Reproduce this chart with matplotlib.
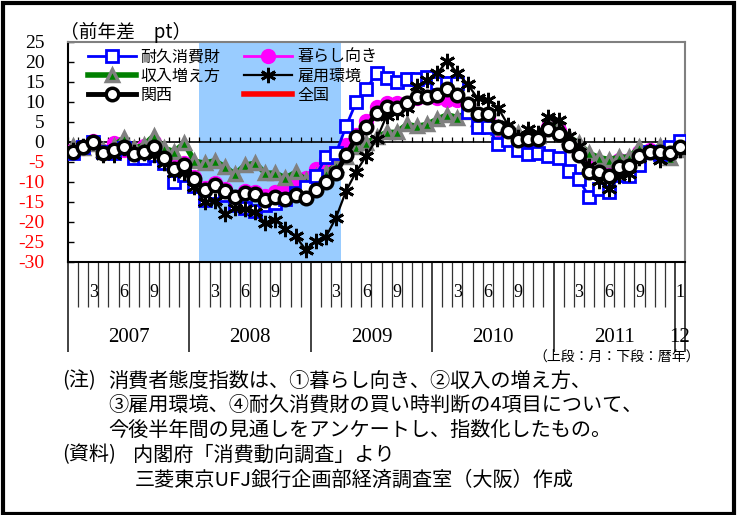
import numpy as np
import matplotlib
matplotlib.use("Agg")
import matplotlib.pyplot as plt
from matplotlib.patches import Rectangle
import matplotlib.transforms as mtransforms

plt.rcParams['font.family'] = ['Noto Sans CJK JP', 'DejaVu Sans']

# ---- data (Jan 2007 .. Jan 2012, monthly, year-on-year difference, pt) ----
durable = [-2.8, -1.3, 0.0, -2.4, -2.7, -1.6, -4.0, -4.0, -3.2, -5.3, -10.0, -8.2,
           -11.0, -14.5, -12.5, -13.2, -15.8, -16.6, -17.2, -15.7, -15.2, -14.3, -12.8, -11.2,
           -8.5, -3.7, -2.8, 4.0, 10.0, 13.2, 17.2, 15.9, 14.9, 15.7, 15.7, 16.2,
           14.7, 14.7, 14.7, 7.6, 3.8, 3.8, -0.5, 0.4, -1.9, -2.9, -2.7, -3.5,
           -4.1, -7.2, -9.2, -13.7, -11.8, -12.5, -8.3, -8.5, -5.7, -2.4, -3.0, -1.2,
           0.3]
living = [-2.0, -1.5, 0.3, -2.2, -0.3, -2.0, -2.2, -1.0, 0.0, -3.2, -5.8, -5.2,
          -8.8, -11.6, -10.3, -11.8, -13.7, -12.2, -12.4, -13.5, -12.4, -11.8, -10.3, -9.1,
          -6.8, -4.4, -3.6, -0.8, 1.8, 5.3, 8.7, 9.8, 9.7, 9.7, 10.9, 11.3,
          10.9, 10.6, 10.6, 9.3, 6.5, 6.0, 3.2, 2.5, 0.3, 0.5, 1.0, 3.8,
          3.0, -0.5, -2.8, -4.5, -5.3, -6.2, -4.5, -4.5, -2.5, -2.0, -2.2, -2.5,
          -1.5]
income = [-1.0, -1.5, -0.5, -2.0, -1.0, 0.9, -1.6, -0.8, 1.6, -1.6, -2.4, -0.3,
          -4.8, -5.3, -4.7, -6.2, -8.1, -5.8, -5.3, -7.8, -7.8, -9.0, -7.6, -9.4,
          -8.6, -7.8, -5.8, -3.7, -1.2, -0.3, 1.2, 2.4, 2.4, 4.4, 3.9, 4.4,
          5.7, 6.8, 6.1, 7.4, 5.7, 5.7, 3.4, 3.0, 2.2, 1.8, 1.5, 4.5,
          3.8, 1.3, -0.3, -2.8, -3.9, -4.4, -3.8, -3.8, -1.3, -2.4, -1.0, -3.9,
          -2.0]
employment = [-2.0, -1.0, 0.1, -3.2, -3.2, -1.6, -2.4, -2.8, -3.2, -5.3, -7.8, -7.8,
              -11.2, -15.0, -14.7, -18.1, -16.6, -16.8, -17.6, -20.2, -19.5, -21.8, -23.6, -26.9,
              -24.7, -23.7, -18.9, -12.2, -7.4, -3.4, 0.7, 6.5, 7.5, 8.5, 14.0, 15.5,
              17.2, 20.2, 17.2, 14.5, 10.9, 10.5, 8.6, 4.3, 1.3, 3.3, 2.2, 6.3,
              5.6, 1.5, -1.1, -6.0, -9.7, -11.7, -8.6, -7.9, -4.1, -2.3, -4.5, -3.0,
              -2.0]
kansai = [-2.4, -1.2, -0.1, -2.7, -2.0, -1.2, -3.0, -2.5, -1.2, -3.9, -6.8, -5.8,
          -9.2, -12.0, -10.8, -12.2, -13.7, -12.8, -13.0, -14.5, -13.7, -14.3, -13.2, -13.9,
          -12.1, -10.1, -7.8, -3.3, 1.2, 3.8, 7.2, 8.7, 8.4, 9.7, 11.2, 11.3,
          11.8, 13.3, 11.8, 9.6, 7.0, 6.9, 3.7, 2.7, 0.5, 0.7, 0.7, 3.2,
          2.1, -0.8, -3.2, -7.5, -7.5, -8.5, -6.2, -6.0, -3.4, -2.4, -2.6, -2.8,
          -1.3]
national = [-2.6, -1.4, -0.4, -2.6, -1.8, -1.6, -2.8, -2.4, -1.6, -4.0, -6.5, -6.0,
            -9.5, -12.3, -11.0, -12.5, -14.0, -13.0, -13.0, -14.2, -13.5, -13.5, -12.3, -12.0,
            -10.5, -8.5, -6.0, -2.5, 1.5, 4.5, 7.8, 9.0, 9.0, 10.2, 11.3, 11.6,
            12.0, 12.6, 11.6, 9.6, 6.8, 6.6, 3.6, 2.6, 0.6, 0.6, 0.9, 3.4,
            2.4, -0.8, -3.4, -6.5, -6.8, -7.8, -5.8, -5.5, -3.2, -2.3, -2.5, -2.7,
            -1.4]

series_names = ['耐久消費財', '暮らし向き', '収入増え方', '雇用環境', '関西', '全国']
year_labels = ['2007', '2008', '2009', '2010', '2011', '12']
month_labels = ['3', '6', '9']
last_month_label = '1'
recession = (13, 26)   # Feb 2008 .. Mar 2009 (indices)
yticks = [25, 20, 15, 10, 5, 0, -5, -10, -15, -20, -25, -30]

n = len(kansai)
x = np.arange(n)

W, H = 742, 515
fig = plt.figure(figsize=(W / 100, H / 100), dpi=100)
ax = fig.add_axes([68 / W, 1 - 262 / H, 617 / W, 220 / H])
ax.set_xlim(-0.5, n - 0.5)
ax.set_ylim(-30, 25)

ax.axvspan(recession[0] - 0.5, recession[1] + 0.5, color='#99CCFF', zorder=0, lw=0)
ax.axhline(0, color='black', lw=1.2, zorder=1)
ax.vlines(np.arange(n + 1) - 0.5, 0, 1.2, color='black', lw=0.9, zorder=1)

l_nat, = ax.plot(x, national, color='#FF0000', lw=4, zorder=2, label=series_names[5])
l_liv, = ax.plot(x, living, color='#FF00FF', lw=2, marker='o', ms=10,
                 mfc='#FF00FF', mec='#FF00FF', zorder=3, label=series_names[1])
l_inc, = ax.plot(x, income, color='#008000', lw=4, marker='^', ms=8,
                 mfc='#008000', mec='#808080', mew=2.5, zorder=4, label=series_names[2])
l_dur, = ax.plot(x, durable, color='#0000FF', lw=2, marker='s', ms=8,
                 mfc='white', mec='#0000FF', mew=2, zorder=5, label=series_names[0])
l_emp, = ax.plot(x, employment, color='black', lw=1.6, marker=(6, 2, 0), ms=11,
                 mec='black', mew=2, zorder=6, label=series_names[3])
l_kan, = ax.plot(x, kansai, color='black', lw=3.5, marker='o', ms=9,
                 mfc='white', mec='black', mew=2.5, zorder=7, label=series_names[4])

# spines
for s in ['top', 'right']:
    ax.spines[s].set_color('#808080')
    ax.spines[s].set_linewidth(1.5)
ax.spines['left'].set_linewidth(1.5)
ax.spines['bottom'].set_linewidth(1.5)

ax.set_xticks([])
ax.set_yticks(yticks)
ax.set_yticklabels([str(v) for v in yticks], family='Liberation Serif', fontsize=14)
for lab, v in zip(ax.get_yticklabels(), yticks):
    lab.set_color('red' if v < 0 else 'black')
ax.tick_params(axis='y', direction='in', length=4, width=1, pad=17)

# category axis below the plot
trans = mtransforms.blended_transform_factory(ax.transData, ax.transAxes)
bounds = np.arange(n + 1) - 0.5
year_bounds = [b for i, b in enumerate(bounds) if i % 12 == 0 or i == n]
month_bounds = [b for b in bounds if b not in year_bounds]
ax.vlines(month_bounds, -0.205, 0, transform=trans, color='#333333', lw=0.9, clip_on=False)
ax.vlines(year_bounds, -0.41, 0, transform=trans, color='#222222', lw=1.2, clip_on=False)

for yr in range(5):
    for k, m in enumerate(month_labels):
        idx = yr * 12 + (k + 1) * 3 - 1
        ax.text(idx, -0.14, m, transform=trans, ha='center', va='center',
                family='Liberation Serif', fontsize=13)
ax.text(n - 1, -0.14, last_month_label, transform=trans, ha='center', va='center',
        family='Liberation Serif', fontsize=13)
for yr, lab in enumerate(year_labels):
    xc = yr * 12 + 5.5 if yr < 5 else n - 1
    ax.text(xc, -0.345, lab, transform=trans, ha='center', va='center',
            family='Liberation Serif', fontsize=15)

# legend (row-major order in a 2-column layout)
handles = [l_dur, l_inc, l_kan, l_liv, l_emp, l_nat]
leg = ax.legend(handles=handles, loc='upper left', bbox_to_anchor=(0.032, 0.972),
                ncol=2, frameon=False, fontsize=11.5, handlelength=3.0,
                handletextpad=0.3, columnspacing=1.5, labelspacing=0.15,
                borderpad=0, borderaxespad=0, numpoints=1)
leg.set_zorder(10)

# texts
fig.text(60 / W, 1 - 32 / H, '（前年差　pt）', ha='left', va='center', fontsize=13.5)
fig.text(700 / W, 1 - 357 / H, '（上段：月：下段：暦年）', ha='right', va='center', fontsize=10)
fs = 14.5
fig.text(62 / W, 1 - 381 / H, '(注)', ha='left', va='center', fontsize=fs)
fig.text(108 / W, 1 - 381 / H, '消費者態度指数は、①暮らし向き、②収入の増え方、',
         ha='left', va='center', fontsize=fs)
fig.text(108 / W, 1 - 405 / H, '③雇用環境、④耐久消費財の買い時判断の4項目について、',
         ha='left', va='center', fontsize=fs)
fig.text(108 / W, 1 - 430 / H, '今後半年間の見通しをアンケートし、指数化したもの。',
         ha='left', va='center', fontsize=fs)
fig.text(62 / W, 1 - 455 / H, '(資料)', ha='left', va='center', fontsize=fs)
fig.text(133 / W, 1 - 455 / H, '内閣府「消費動向調査」より',
         ha='left', va='center', fontsize=fs)
fig.text(135 / W, 1 - 480 / H, '三菱東京UFJ銀行企画部経済調査室（大阪）作成',
         ha='left', va='center', fontsize=fs)

# outer frame
fig.patches.append(Rectangle((3 / W, 1 / H), 731 / W, 511 / H, transform=fig.transFigure,
                             fill=False, edgecolor='black', lw=3))

fig.savefig('out.png', dpi=100)
